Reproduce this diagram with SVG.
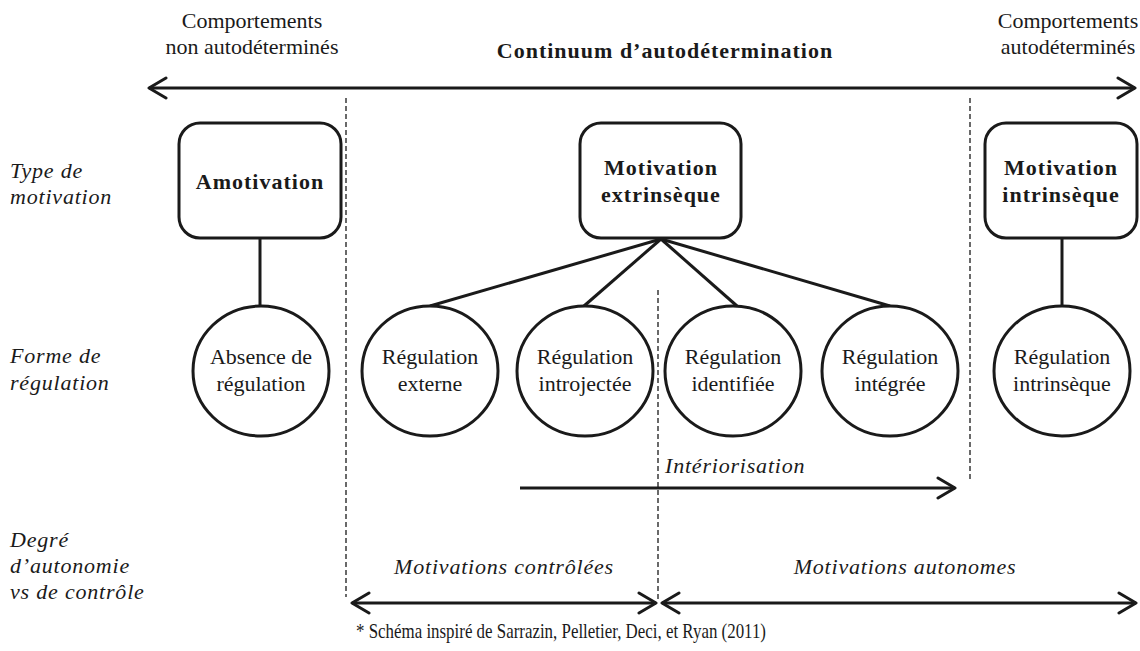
<svg xmlns="http://www.w3.org/2000/svg" width="1140" height="651" viewBox="0 0 1140 651">
<style>
.t{font-family:"Liberation Serif","Times New Roman",serif;font-size:22px;fill:#1a1a1a}
.m{text-anchor:middle}
.b{font-weight:bold;letter-spacing:1px}
.i{font-style:italic;letter-spacing:0.8px}
.box{fill:#fff;stroke:#1a1a1a;stroke-width:3}
.ln{stroke:#1a1a1a;stroke-width:3;fill:none}
.dash{stroke:#1a1a1a;stroke-width:1.3;stroke-dasharray:5 3;fill:none}
</style>
<defs>
<marker id="ah" viewBox="-20 -12 24 24" refX="0" refY="0" markerWidth="24" markerHeight="24" markerUnits="userSpaceOnUse" orient="auto-start-reverse">
<path d="M-17,-10 L0,0 L-17,10" fill="none" stroke="#1a1a1a" stroke-width="3" stroke-linecap="round" stroke-linejoin="round"/>
</marker>
</defs>
<rect width="1140" height="651" fill="#fff"/>

<g id="header">
<text class="t m" x="252" y="28">Comportements</text>
<text class="t m" x="252" y="54">non autodéterminés</text>
<text class="t m b" x="665" y="58">Continuum d’autodétermination</text>
<text class="t m" x="1068" y="28">Comportements</text>
<text class="t m" x="1068" y="54">autodéterminés</text>
</g>

<g id="row-labels">
<text class="t i" x="10" y="178">Type de</text>
<text class="t i" x="10" y="204">motivation</text>
<text class="t i" x="10" y="363">Forme de</text>
<text class="t i" x="10" y="390">régulation</text>
<text class="t i" x="10" y="547">Degré</text>
<text class="t i" x="10" y="573">d’autonomie</text>
<text class="t i" x="10" y="599">vs de contrôle</text>
</g>

<g id="connectors">
<line class="ln" x1="149" y1="88" x2="1135" y2="88" marker-start="url(#ah)" marker-end="url(#ah)"/>
<line class="dash" x1="346" y1="98" x2="346" y2="597"/>
<line class="dash" x1="658" y1="290" x2="658" y2="600"/>
<line class="dash" x1="970" y1="98" x2="970" y2="481"/>
<line class="ln" x1="260" y1="238" x2="260" y2="305"/>
<line class="ln" x1="661" y1="239" x2="430" y2="306"/>
<line class="ln" x1="661" y1="239" x2="584" y2="306"/>
<line class="ln" x1="661" y1="239" x2="737" y2="306"/>
<line class="ln" x1="661" y1="239" x2="890" y2="306"/>
<line class="ln" x1="1062" y1="238" x2="1062" y2="305"/>
<line class="ln" x1="520" y1="488" x2="955" y2="488" marker-end="url(#ah)"/>
<line class="ln" x1="352" y1="603" x2="656" y2="603" marker-start="url(#ah)" marker-end="url(#ah)"/>
<line class="ln" x1="662" y1="603" x2="1136" y2="603" marker-start="url(#ah)" marker-end="url(#ah)"/>
</g>

<g id="amotivation">
<rect class="box" x="179" y="123" width="162" height="115" rx="21"/>
<text class="t m b" x="260" y="189">Amotivation</text>
</g>
<g id="motivation-extrinseque">
<rect class="box" x="580" y="123" width="161" height="115" rx="21"/>
<text class="t m b" x="661" y="175">Motivation</text>
<text class="t m b" x="661" y="202">extrinsèque</text>
</g>
<g id="motivation-intrinseque">
<rect class="box" x="985" y="123" width="152" height="115" rx="21"/>
<text class="t m b" x="1061" y="175">Motivation</text>
<text class="t m b" x="1061" y="202">intrinsèque</text>
</g>

<g id="absence-regulation">
<ellipse class="box" cx="261" cy="371" rx="68" ry="65"/>
<text class="t m" x="261" y="364">Absence de</text>
<text class="t m" x="261" y="391">régulation</text>
</g>
<g id="regulation-externe">
<ellipse class="box" cx="430" cy="371" rx="68" ry="65"/>
<text class="t m" x="430" y="364">Régulation</text>
<text class="t m" x="430" y="391">externe</text>
</g>
<g id="regulation-introjectee">
<ellipse class="box" cx="585" cy="371" rx="68" ry="65"/>
<text class="t m" x="585" y="364">Régulation</text>
<text class="t m" x="585" y="391">introjectée</text>
</g>
<g id="regulation-identifiee">
<ellipse class="box" cx="733" cy="371" rx="68" ry="65"/>
<text class="t m" x="733" y="364">Régulation</text>
<text class="t m" x="733" y="391">identifiée</text>
</g>
<g id="regulation-integree">
<ellipse class="box" cx="890" cy="371" rx="68" ry="65"/>
<text class="t m" x="890" y="364">Régulation</text>
<text class="t m" x="890" y="391">intégrée</text>
</g>
<g id="regulation-intrinseque">
<ellipse class="box" cx="1062" cy="371" rx="68" ry="65"/>
<text class="t m" x="1062" y="364">Régulation</text>
<text class="t m" x="1062" y="391">intrinsèque</text>
</g>

<g id="bottom-labels">
<text class="t i" x="665" y="473">Intériorisation</text>
<text class="t m i" x="504" y="574">Motivations contrôlées</text>
<text class="t m i" x="905" y="574">Motivations autonomes</text>
<text class="t" x="356" y="638" textLength="410" lengthAdjust="spacingAndGlyphs">* Schéma inspiré de Sarrazin, Pelletier, Deci, et Ryan (2011)</text>
</g>
</svg>
